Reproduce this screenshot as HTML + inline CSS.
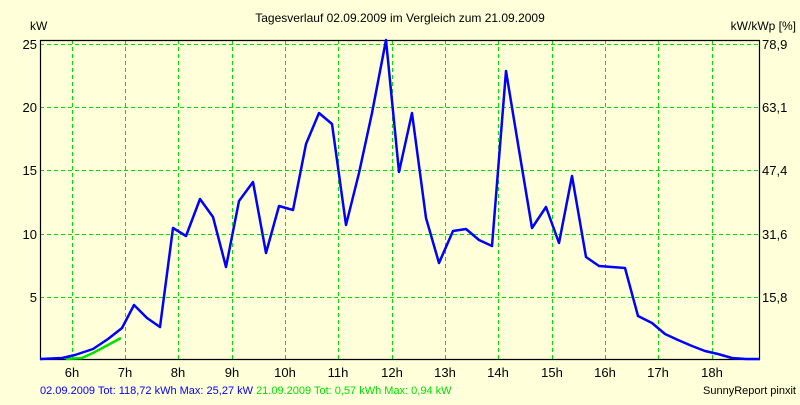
<!DOCTYPE html>
<html><head><meta charset="utf-8"><style>
html,body{margin:0;padding:0;background:#ffffd9;}
svg text{font-family:"Liberation Sans",sans-serif;}
</style></head><body>
<svg width="800" height="400" xmlns="http://www.w3.org/2000/svg">
<rect width="800" height="400" fill="#ffffd9"/>
<text x="400" y="22" font-size="12" text-anchor="middle" fill="#000">Tagesverlauf 02.09.2009 im Vergleich zum 21.09.2009</text>
<text x="30" y="30" font-size="12" fill="#000">kW</text>
<text x="796" y="30" font-size="12" text-anchor="end" fill="#000">kW/kWp [%]</text>
<g stroke="#00e000" stroke-dasharray="4,3" stroke-width="1">
<line x1="40" y1="44.5" x2="759" y2="44.5"/>
<line x1="40" y1="107.5" x2="759" y2="107.5"/>
<line x1="40" y1="170.5" x2="759" y2="170.5"/>
<line x1="40" y1="234.5" x2="759" y2="234.5"/>
<line x1="40" y1="297.5" x2="759" y2="297.5"/>
<line x1="72.5" y1="40" x2="72.5" y2="359"/>
<line x1="125.5" y1="40" x2="125.5" y2="359"/>
<line x1="178.5" y1="40" x2="178.5" y2="359"/>
<line x1="232.5" y1="40" x2="232.5" y2="359"/>
<line x1="285.5" y1="40" x2="285.5" y2="359"/>
<line x1="338.5" y1="40" x2="338.5" y2="359"/>
<line x1="392.5" y1="40" x2="392.5" y2="359"/>
<line x1="445.5" y1="40" x2="445.5" y2="359"/>
<line x1="498.5" y1="40" x2="498.5" y2="359"/>
<line x1="552.5" y1="40" x2="552.5" y2="359"/>
<line x1="605.5" y1="40" x2="605.5" y2="359"/>
<line x1="658.5" y1="40" x2="658.5" y2="359"/>
<line x1="712.5" y1="40" x2="712.5" y2="359"/>
</g>
<g stroke="#000" stroke-width="1.2" fill="none">
<polyline points="40.5,40 40.5,359.5 759.5,359.5 759.5,40"/>
<line x1="40" y1="40.5" x2="760" y2="40.5"/>
</g>
<g font-size="13" fill="#000" text-anchor="end">
<text x="37" y="49">25</text><text x="37" y="112">20</text><text x="37" y="175">15</text><text x="37" y="239">10</text><text x="37" y="302">5</text>
</g>
<g font-size="13" fill="#000">
<text x="762" y="49">78,9</text><text x="762" y="112">63,1</text><text x="762" y="175">47,4</text><text x="762" y="239">31,6</text><text x="762" y="302">15,8</text>
</g>
<g font-size="13" fill="#000" text-anchor="middle">
<text x="72" y="377">6h</text><text x="125" y="377">7h</text><text x="178" y="377">8h</text><text x="232" y="377">9h</text><text x="285" y="377">10h</text><text x="338" y="377">11h</text><text x="392" y="377">12h</text><text x="445" y="377">13h</text><text x="498" y="377">14h</text><text x="552" y="377">15h</text><text x="605" y="377">16h</text><text x="658" y="377">17h</text><text x="712" y="377">18h</text>
</g>
<polyline fill="none" stroke="#00e000" stroke-width="2.5" points="66,359 82,358 93,353 108,345 121,338"/>
<polyline fill="none" stroke="#0000ff" stroke-width="2.5" stroke-linejoin="round" points="40,359 62,358 75,355 93,349 108,339 122,328 134,305 147,318 160,327 173,228 186,236 200,199 213,217 226,267 239,201 253,182 266,253 279,206 293,210 306,144 319,113 332,124 346,225 359,173 372,113 386,40 399,172 412,113 426,218 439,263 453,231 466,229 479,240 492,246 506,71 519,150 532,228 546,207 559,243 572,176 586,257 599,266 612,267 625,268 638,316 652,323 665,334 678,340 692,346 705,351 718,354 732,358 746,359 760,359"/>
<text x="40" y="394" font-size="11" fill="#0000ff">02.09.2009 Tot: 118,72 kWh Max: 25,27 kW <tspan fill="#00e000">21.09.2009 Tot: 0,57 kWh Max: 0,94 kW</tspan></text>
<text x="796" y="394" font-size="11" text-anchor="end" fill="#000">SunnyReport pinxit</text>
</svg>
</body></html>
